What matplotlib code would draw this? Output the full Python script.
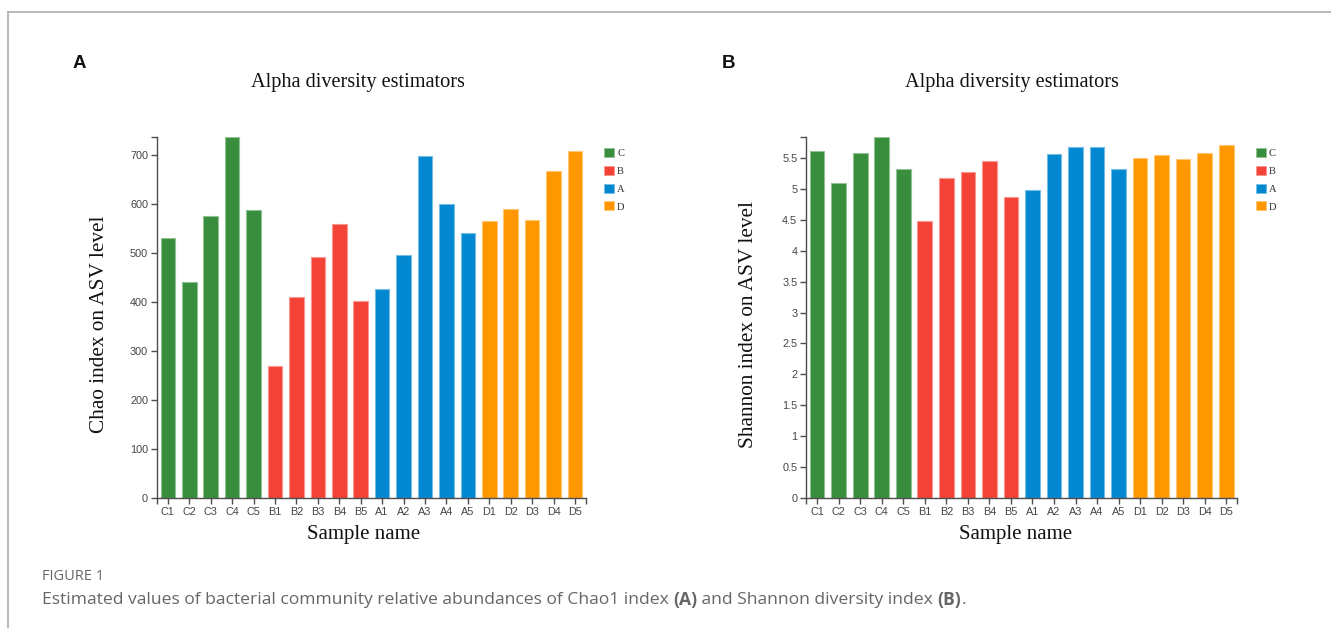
import matplotlib
matplotlib.use("Agg")
import matplotlib.pyplot as plt
import matplotlib.colors as mcolors
from matplotlib.patches import Patch
from matplotlib.lines import Line2D

# sample order and group membership
samples = ["C1", "C2", "C3", "C4", "C5",
           "B1", "B2", "B3", "B4", "B5",
           "A1", "A2", "A3", "A4", "A5",
           "D1", "D2", "D3", "D4", "D5"]
groups = ["C"] * 5 + ["B"] * 5 + ["A"] * 5 + ["D"] * 5
group_order = ["C", "B", "A", "D"]
group_colors = {"C": "#388E3C", "B": "#F44336", "A": "#0288D1", "D": "#FF9800"}

chao = [531, 441, 576, 737, 589,
        269, 410, 493, 559, 403,
        427, 497, 698, 601, 542,
        566, 591, 568, 669, 708]
shannon = [5.62, 5.10, 5.58, 5.84, 5.33,
           4.49, 5.18, 5.28, 5.45, 4.88,
           4.99, 5.57, 5.68, 5.68, 5.33,
           5.51, 5.55, 5.49, 5.59, 5.71]

W, H = 1331, 628
fig = plt.figure(figsize=(W / 100, H / 100), dpi=100)

serif = ["Liberation Serif", "DejaVu Serif"]
sans = ["Liberation Sans", "DejaVu Sans"]
axis_col = "#4d4d4d"


def px(x, y):
    return x / W, 1 - y / H


def lighter(c, f=0.45):
    r, g, b = mcolors.to_rgb(c)
    return (r + (1 - r) * f, g + (1 - g) * f, b + (1 - b) * f)


def panel(left, right, values, yticks, ylabel, letter, legend_x, title_x, xlab_x):
    top, bottom = 137.3, 497.7
    ax = fig.add_axes([left / W, 1 - bottom / H, (right - left) / W, (bottom - top) / H])
    xs = range(len(samples))
    cols = [group_colors[g] for g in groups]
    ax.bar(xs, values, width=0.68, color=cols,
           edgecolor=[lighter(c) for c in cols], linewidth=0.8)
    ax.set_xlim(-0.5, len(samples) - 0.5)
    ymax = max(values)
    ax.set_ylim(0, ymax)
    for s in ("top", "right"):
        ax.spines[s].set_visible(False)
    for s in ("left", "bottom"):
        ax.spines[s].set_color(axis_col)
        ax.spines[s].set_linewidth(1.0)
    # d3-style outer ticks at the axis ends
    ax.set_xticks([-0.5] + list(xs) + [len(samples) - 0.5],
                  [""] + samples + [""])
    ax.set_yticks(list(yticks) + [ymax],
                  ["%g" % t for t in yticks] + [""])
    ax.tick_params(length=4.5, width=1.0, color=axis_col, labelcolor="#444444",
                   labelsize=7.8, pad=2)
    for lab in ax.get_xticklabels() + ax.get_yticklabels():
        lab.set_fontfamily(sans)

    fig.text(*px(title_x, 82.5), "Alpha diversity estimators", family=serif,
             fontsize=14.6, ha="center", va="center", color="#111111")
    fig.text(*px(xlab_x, 535), "Sample name", family=serif, fontsize=15,
             ha="center", va="center", color="#111111")
    fig.text(*px(left - 58, 324), ylabel, family=serif, fontsize=15.3,
             rotation=90, ha="center", va="center", color="#111111")
    fig.text(*px(left - 85, 63.5), letter, family=sans, fontsize=13.5,
             fontweight="bold", ha="left", va="center", color="#111111")

    handles = [Patch(facecolor=group_colors[g], edgecolor=lighter(group_colors[g]),
                     linewidth=0.6) for g in group_order]
    leg = ax.legend(handles, group_order, loc="upper left",
                    bbox_to_anchor=px(legend_x, 148), bbox_transform=fig.transFigure,
                    frameon=False, borderpad=0, borderaxespad=0,
                    handlelength=0.95, handleheight=0.95, handletextpad=0.3,
                    labelspacing=0.72, prop={"family": serif, "size": 7.6})
    for t in leg.get_texts():
        t.set_color("#333333")
    return ax


panel(157.1, 585.7, chao, range(0, 701, 100), "Chao index on ASV level", "A",
      604, 358, 364)
panel(806.4, 1237.0, shannon, [i * 0.5 for i in range(12)],
      "Shannon index on ASV level", "B", 1255.5, 1012, 1016)

# frame around the figure body
fig.add_artist(Line2D([8 / W, 1], [1 - 12 / H] * 2, transform=fig.transFigure,
                      color="#b3b3b3", linewidth=1.3))
fig.add_artist(Line2D([8 / W] * 2, [1 - 12 / H, 0], transform=fig.transFigure,
                      color="#b3b3b3", linewidth=1.3))

# caption with bold panel references
cap_col = "#666666"
cap_font = ["Open Sans", "DejaVu Sans"]
fig.text(*px(42, 577), "FIGURE 1", family=cap_font, fontsize=10.5,
         color=cap_col, ha="left", va="center")
pieces = [("Estimated values of bacterial community relative abundances of Chao1 index ", "normal"),
          ("(A)", "bold"),
          (" and Shannon diversity index ", "normal"),
          ("(B)", "bold"),
          (".", "normal")]
fig.canvas.draw()
renderer = fig.canvas.get_renderer()
x = 42
for txt, wt in pieces:
    t = fig.text(*px(x, 600), txt, family=cap_font, fontsize=12.6, fontweight=wt,
                 color=cap_col, ha="left", va="center")
    x += t.get_window_extent(renderer).width

fig.savefig("out.png", dpi=100, facecolor="white")
